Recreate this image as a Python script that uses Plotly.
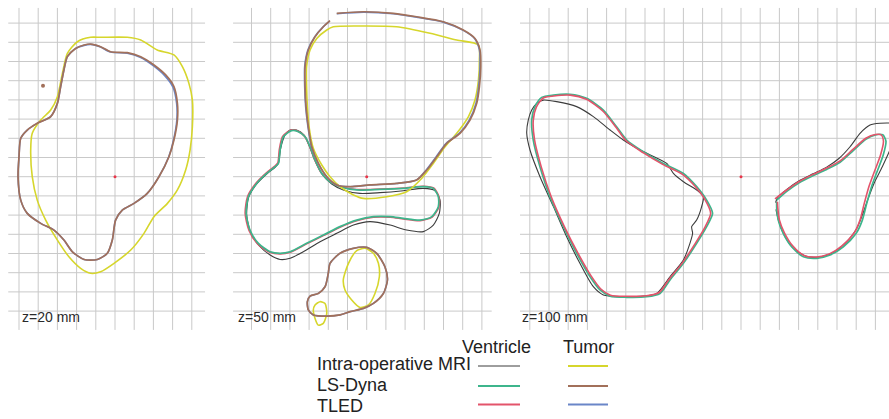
import plotly.graph_objects as go

W, H = 889, 419
PX_PER_MM = 1.92          # drawing scale: one 10 mm grid cell = 19.2 px
ORIGIN_Y_PX = 176.7       # vertical position of each slice centre
BOX_Y_PX = (0, 335)

# --- slice labels -----------------------------------------------------------
SLICE_LABELS = ["z=20 mm", "z=50 mm", "z=100 mm"]

# --- series names / legend ----------------------------------------------------
ROW_NAMES = ["Intra-operative MRI", "LS-Dyna", "TLED"]
COL_NAMES = ["Ventricle", "Tumor"]

# --- contours, coordinates in mm relative to slice centre ---------------------
# z = 20 mm : tumour only
P1_TUMOR_MRI = [(-12.7, 72.6), (-7.5, 72.6), (6.4, 72.6), (13.4, 71.2), (22.0, 66.0), (30.7, 63.4),
                (35.1, 57.3), (38.5, 48.6), (40.3, 39.9), (40.3, 26.0), (39.1, 13.9), (36.8, 3.5),
                (32.5, -6.9), (27.3, -13.9), (20.3, -20.8), (15.1, -29.5), (8.2, -38.2), (-0.5, -45.1),
                (-7.5, -49.5), (-12.7, -50.3), (-17.9, -47.7), (-24.0, -41.7), (-30.0, -33.0),
                (-36.1, -22.6), (-40.5, -12.2), (-43.1, 0.0), (-43.9, 13.9), (-43.1, 22.6),
                (-38.7, 29.5), (-33.5, 34.7), (-30.0, 41.7), (-27.4, 53.8), (-24.8, 64.2), (-19.6, 70.3)]
P1_TUMOR_LSDYNA = [(-16.1, 68.6), (-12.7, 69.1), (-7.5, 67.7), (-2.3, 65.1), (6.4, 64.6), (13.4, 62.5),
                   (20.3, 58.2), (26.4, 53.0), (30.7, 46.9), (32.5, 38.2), (32.5, 29.5), (30.7, 19.1),
                   (28.1, 10.4), (22.9, 0.0), (16.8, -8.7), (9.9, -13.9), (3.8, -17.4), (0.3, -22.6),
                   (-1.4, -33.0), (-4.0, -39.9), (-9.2, -43.1), (-16.1, -43.1), (-22.2, -39.1),
                   (-26.6, -33.0), (-31.8, -27.8), (-38.7, -24.3), (-45.7, -19.1), (-49.1, -12.2),
                   (-50.5, 0.0), (-50.0, 10.4), (-49.1, 20.0), (-45.7, 24.3), (-40.5, 27.8),
                   (-33.5, 31.3), (-30.0, 38.2), (-28.3, 46.9), (-26.6, 55.6), (-24.8, 62.5), (-20.5, 66.8)]
P1_TUMOR_TLED = [(-16.1, 68.4), (-12.7, 68.9), (-7.5, 67.5), (-2.3, 64.9), (6.4, 64.3), (13.4, 62.1),
                 (20.1, 57.7), (26.0, 52.5), (30.2, 46.6), (32.1, 38.2), (32.2, 29.5), (30.5, 19.1),
                 (28.0, 10.4), (22.9, 0.0), (16.8, -8.7), (9.9, -13.9), (3.8, -17.4), (0.3, -22.6),
                 (-1.4, -33.0), (-4.0, -39.9), (-9.2, -43.1), (-16.1, -43.1), (-22.2, -39.1),
                 (-26.6, -33.0), (-31.8, -27.8), (-38.7, -24.3), (-45.7, -19.1), (-49.1, -12.2),
                 (-50.5, 0.0), (-50.0, 10.4), (-49.1, 20.0), (-45.7, 24.3), (-40.5, 27.8),
                 (-33.5, 31.3), (-30.0, 38.2), (-28.3, 46.9), (-26.6, 55.6), (-24.8, 62.5), (-20.5, 66.8)]
P1_TUMOR_SPECK = [(-37.5, 47.4)]

# z = 50 mm : tumour (large + small lobe) and ventricle
P2_TUMOR_MRI = [(-20.8, 76.4), (-17.4, 78.1), (-1.7, 78.5), (15.6, 78.1), (33.0, 74.7), (46.9, 71.2),
                (58.2, 68.6), (58.7, 60.8), (58.2, 50.3), (56.4, 39.9), (53.0, 31.3), (46.9, 22.6),
                (40.8, 15.6), (34.7, 6.9), (28.6, -0.9), (20.8, -7.8), (10.4, -10.4), (-1.7, -11.3),
                (-6.9, -9.5), (-13.9, -5.2), (-19.1, 0.0), (-23.4, 6.1), (-27.8, 14.8), (-29.9, 25.2),
                (-30.9, 36.5), (-31.3, 46.9), (-31.3, 57.3), (-29.5, 66.0), (-26.0, 72.0)]
P2_TUMOR_LSDYNA = [(-19.1, 81.3), (-22.6, 78.1), (-26.9, 72.9), (-30.4, 66.0), (-32.1, 57.3),
                   (-32.1, 46.9), (-31.6, 36.5), (-30.4, 26.0), (-28.6, 15.6), (-25.2, 6.9),
                   (-20.8, 0.0), (-15.6, -4.3), (-8.7, -5.2), (1.7, -4.3), (15.6, -3.5), (26.0, -1.7),
                   (31.3, 3.5), (36.5, 10.4), (41.7, 17.4), (48.6, 22.6), (53.8, 29.5), (57.3, 38.2),
                   (58.7, 46.9), (59.4, 57.3), (59.0, 66.0), (56.4, 72.0), (50.3, 76.4), (39.9, 80.7),
                   (26.0, 83.3), (13.9, 85.1), (-1.7, 85.9), (-15.6, 85.1)]
P2_TUMOR_TLED = [(-19.3, 81.0), (-22.8, 77.9), (-27.2, 72.7), (-30.7, 65.8), (-32.3, 57.3),
                 (-32.3, 46.9), (-31.8, 36.5), (-30.6, 26.0), (-28.8, 15.6), (-25.2, 6.9),
                 (-20.8, 0.0), (-15.6, -4.3), (-8.7, -5.2), (1.7, -4.3), (15.6, -3.5), (26.0, -1.7),
                 (31.0, 3.5), (36.2, 10.4), (41.4, 17.4), (48.2, 22.6), (53.4, 29.5), (56.9, 38.2),
                 (58.3, 46.9), (59.0, 57.3), (58.7, 66.0), (56.2, 72.0), (50.3, 76.2), (39.9, 80.5),
                 (26.0, 83.1), (13.9, 84.9), (-1.7, 85.7), (-15.6, 84.9)]
P2_LOBE_MRI = [(-0.9, -37.3), (-5.2, -38.5), (-9.5, -45.1), (-12.2, -53.8), (-11.3, -59.0),
               (-7.8, -64.2), (-3.5, -68.1), (0.9, -66.8), (4.3, -60.8), (6.6, -52.1), (6.1, -45.1),
               (3.5, -39.9)]
P2_SPOT_MRI = [(-26.9, -66.8), (-24.3, -65.1), (-21.7, -66.0), (-20.8, -71.2), (-22.6, -76.4),
               (-25.2, -77.3), (-26.9, -73.8), (-27.8, -69.4)]
P2_LOBE_LSDYNA = [(-19.1, -45.1), (-13.9, -39.9), (-6.9, -37.3), (0.0, -36.8), (5.2, -39.9),
                  (9.5, -46.9), (10.8, -53.8), (8.7, -60.8), (3.5, -66.0), (-1.7, -68.6),
                  (-8.7, -70.3), (-13.9, -72.0), (-20.8, -72.6), (-27.8, -72.0), (-30.4, -69.4),
                  (-30.9, -65.1), (-29.5, -62.2), (-25.2, -60.8), (-21.7, -57.3), (-20.0, -50.3)]
P2_LOBE_TLED = P2_LOBE_LSDYNA
P2_VENT_MRI = [(-46.0, 6.9), (-44.8, 14.8), (-42.5, 21.7), (-39.9, 24.3), (-36.5, 24.3), (-32.6, 21.7),
               (-29.9, 16.0), (-26.9, 8.3), (-22.9, 0.9), (-18.2, -3.8), (-12.2, -6.9), (-3.5, -8.7),
               (6.9, -8.3), (19.1, -7.3), (29.5, -6.1), (35.6, -7.3), (38.2, -12.2), (37.8, -19.1),
               (34.7, -25.2), (29.5, -28.6), (20.8, -27.8), (12.2, -25.2), (1.7, -23.4), (-6.9, -25.2),
               (-15.6, -29.5), (-24.3, -33.9), (-33.0, -39.1), (-39.9, -42.5), (-45.1, -43.1),
               (-50.3, -40.8), (-55.9, -36.1), (-60.4, -29.2), (-62.5, -20.0), (-61.5, -10.8),
               (-57.3, -3.8), (-52.1, 1.4), (-47.7, 4.9)]
P2_VENT_LSDYNA = [(-46.0, 6.9), (-45.1, 13.9), (-43.4, 20.8), (-39.1, 24.0), (-35.6, 23.4), (-32.1, 20.8),
                  (-29.5, 15.6), (-26.9, 8.7), (-23.4, 1.7), (-19.1, -2.6), (-13.9, -5.2), (-5.2, -6.9),
                  (6.9, -6.6), (19.1, -6.1), (29.5, -5.2), (34.7, -6.1), (37.3, -10.4), (37.3, -15.6),
                  (33.9, -20.8), (27.8, -22.6), (19.1, -21.7), (12.2, -20.8), (3.5, -20.8), (-5.2, -22.6),
                  (-13.9, -26.0), (-22.6, -30.4), (-31.3, -34.7), (-39.9, -39.1), (-45.1, -39.9),
                  (-50.3, -39.1), (-56.4, -34.7), (-60.8, -27.8), (-62.8, -19.1), (-61.6, -10.4),
                  (-57.3, -3.5), (-52.1, 1.7), (-47.7, 5.2)]
P2_VENT_TLED = [(-46.3, 7.2), (-45.5, 14.2), (-43.8, 21.0), (-39.4, 24.3), (-35.8, 23.7), (-32.3, 21.0),
                (-29.7, 15.8), (-27.1, 8.9), (-23.6, 1.9), (-19.3, -2.4), (-14.0, -5.0), (-5.2, -6.7),
                (6.9, -6.4), (19.1, -5.9), (29.5, -5.0), (34.9, -5.9), (37.6, -10.4), (37.6, -15.8),
                (34.1, -21.0), (27.8, -22.9), (19.1, -22.0), (12.2, -21.1), (3.5, -21.1), (-5.2, -22.9),
                (-13.9, -26.3), (-22.6, -30.7), (-31.3, -35.0), (-39.9, -39.4), (-45.1, -40.2),
                (-50.5, -39.4), (-56.8, -35.0), (-61.3, -28.0), (-63.3, -19.1), (-62.0, -10.2),
                (-57.6, -3.3), (-52.4, 1.9), (-48.0, 5.4)]

# z = 100 mm : ventricles (left and right horn)
P3_LEFT_MRI = [(-106.4, 38.2), (-103.0, 39.9), (-96.0, 39.1), (-85.6, 36.5), (-76.9, 31.3), (-68.2, 24.3),
               (-61.3, 19.1), (-52.6, 13.9), (-38.7, 6.9), (-35.2, 1.7), (-30.0, -2.6), (-23.1, -6.9),
               (-19.6, -10.4), (-20.5, -15.6), (-23.1, -22.6), (-25.7, -26.0), (-25.2, -29.5),
               (-26.6, -34.7), (-30.0, -43.4), (-37.0, -52.1), (-43.9, -60.8), (-50.9, -62.2),
               (-63.0, -62.5), (-71.7, -61.6), (-76.9, -57.3), (-83.9, -45.1), (-90.8, -31.3),
               (-97.7, -15.6), (-104.7, 0.0), (-109.9, 13.9), (-111.6, 22.6), (-110.8, 29.5), (-109.0, 34.7)]
P3_LEFT_LSDYNA = [(-103.8, 41.3), (-97.7, 42.5), (-89.1, 42.9), (-80.4, 40.8), (-71.7, 34.7), (-64.8, 26.0),
                  (-59.5, 19.1), (-50.9, 13.0), (-40.5, 6.9), (-30.0, 1.7), (-23.1, -5.2), (-17.9, -12.2),
                  (-14.8, -19.1), (-17.9, -26.0), (-23.1, -34.7), (-30.0, -45.1), (-37.0, -53.8),
                  (-42.2, -60.8), (-49.1, -62.5), (-59.5, -62.8), (-68.2, -62.2), (-73.4, -59.0),
                  (-78.6, -52.1), (-85.6, -39.9), (-92.5, -26.0), (-99.5, -10.4), (-104.7, 5.2),
                  (-108.2, 19.1), (-109.0, 29.5), (-107.3, 36.5)]
P3_LEFT_TLED = [(-103.0, 41.0), (-97.5, 42.0), (-89.0, 42.5), (-80.5, 40.3), (-72.0, 34.2), (-65.0, 25.6),
                (-59.8, 18.7), (-51.0, 12.5), (-40.8, 6.4), (-30.5, 1.2), (-23.6, -5.4), (-18.6, -12.2),
                (-15.8, -19.1), (-18.6, -26.0), (-23.8, -34.7), (-30.6, -45.0), (-37.5, -53.5),
                (-42.6, -60.3), (-49.3, -62.0), (-59.5, -62.3), (-68.0, -61.7), (-73.0, -58.5),
                (-78.0, -51.8), (-85.0, -39.7), (-92.0, -26.0), (-98.8, -10.6), (-104.0, 5.0),
                (-107.5, 19.0), (-108.2, 29.3), (-106.6, 36.2)]
P3_RIGHT_MRI = [(18.0, -13.5), (19.0, -11.0), (24.0, -6.5), (30.5, -2.0), (37.5, 1.5), (44.6, 5.0),
                (51.0, 9.5), (56.8, 15.6), (62.0, 22.6), (67.2, 26.9), (72.4, 27.8), (78.0, 27.8),
                (81.0, 26.0), (78.0, 15.0), (73.5, 5.0), (69.5, -3.0), (66.0, -12.0), (63.2, -20.0),
                (60.0, -27.5), (54.5, -34.5), (48.0, -39.5), (41.0, -41.8), (34.0, -41.5), (27.5, -37.5),
                (22.8, -31.0), (19.6, -23.0), (18.2, -17.0)]
P3_RIGHT_LSDYNA = [(18.6, -12.2), (24.0, -7.5), (30.5, -3.0), (37.5, 0.5), (44.6, 3.8), (51.6, 7.5),
                   (58.3, 13.5), (65.0, 19.5), (70.0, 21.8), (73.8, 21.8), (75.5, 18.5), (74.0, 11.0),
                   (71.0, 3.0), (68.0, -5.2), (65.5, -13.9), (63.2, -22.6), (60.0, -29.5), (53.3, -36.5),
                   (46.4, -40.8), (39.4, -42.5), (32.5, -41.7), (26.4, -36.5), (22.0, -29.5),
                   (19.4, -22.6), (18.6, -16.5), (18.6, -13.0)]
P3_RIGHT_TLED = [(17.7, -11.6), (24.0, -6.8), (30.5, -2.4), (37.5, 1.2), (44.6, 4.5), (51.6, 8.2),
                 (58.3, 14.2), (65.0, 20.0), (70.0, 22.0), (73.0, 21.8), (74.2, 18.5), (72.6, 11.0),
                 (69.6, 3.0), (66.6, -5.2), (64.2, -13.9), (62.0, -22.6), (59.0, -29.2), (52.6, -36.0),
                 (46.0, -40.2), (39.4, -41.8), (32.8, -41.0), (26.9, -36.0), (22.6, -29.2),
                 (20.0, -22.5), (19.2, -16.5), (19.0, -13.0)]

# --- styling ------------------------------------------------------------------
COLORS = {
    ("Ventricle", "MRI"): "#3c3c3c",
    ("Ventricle", "LS-Dyna"): "#3db58c",
    ("Ventricle", "TLED"): "#e3546b",
    ("Tumor", "MRI"): "#d6d62c",
    ("Tumor", "LS-Dyna"): "#a2705a",
    ("Tumor", "TLED"): "#6a86c8",
}
WIDTHS = {"MRI": 1.6, "LS-Dyna": 1.7, "TLED": 1.6}
WIDTHS_VENT_MRI = 1.1
GRID_COLOR = "#c9c9c9"
FONT = "Liberation Sans, Arial, sans-serif"

# panel boxes (pixels) and centre positions
PANELS = [
    dict(box=(0, 220), ox=115.0, vlines=range(-50, 41, 10), hx=(-55.6, 46.9)),
    dict(box=(225, 505), ox=366.7, vlines=range(-60, 61, 10), hx=(-69.6, 65.1)),
    dict(box=(510, 889), ox=741.0, vlines=range(-110, 81, 10), hx=(-115.1, 82.0)),
]
HLINES = range(-70, 81, 10)
VLINE_Y = (-79.8, 87.9)

fig = go.Figure()
layout_axes = {}
shapes = []

for i, p in enumerate(PANELS, start=1):
    left, right = p["box"]
    xr = [(left - p["ox"]) / PX_PER_MM, (right - p["ox"]) / PX_PER_MM]
    yr = [(ORIGIN_Y_PX - BOX_Y_PX[1]) / PX_PER_MM, (ORIGIN_Y_PX - BOX_Y_PX[0]) / PX_PER_MM]
    sfx = "" if i == 1 else str(i)
    layout_axes[f"xaxis{sfx}"] = dict(domain=[left / W, right / W], range=xr, visible=False,
                                       fixedrange=True, anchor=f"y{sfx}")
    layout_axes[f"yaxis{sfx}"] = dict(domain=[1 - BOX_Y_PX[1] / H, 1 - BOX_Y_PX[0] / H], range=yr,
                                       visible=False, fixedrange=True, anchor=f"x{sfx}")
    xref, yref = f"x{sfx}", f"y{sfx}"
    for xv in p["vlines"]:
        shapes.append(dict(type="line", xref=xref, yref=yref, x0=xv, x1=xv, y0=VLINE_Y[0], y1=VLINE_Y[1],
                           line=dict(color=GRID_COLOR, width=1), layer="below"))
    for yv in HLINES:
        shapes.append(dict(type="line", xref=xref, yref=yref, x0=p["hx"][0], x1=p["hx"][1], y0=yv, y1=yv,
                           line=dict(color=GRID_COLOR, width=1), layer="below"))


def contour(pts, panel, color, width, closed=True):
    xs = [q[0] for q in pts]
    ys = [q[1] for q in pts]
    if closed:
        xs.append(xs[0])
        ys.append(ys[0])
    sfx = "" if panel == 1 else str(panel)
    fig.add_trace(go.Scatter(x=xs, y=ys, mode="lines", xaxis=f"x{sfx}", yaxis=f"y{sfx}",
                             line=dict(color=color, width=width, shape="spline", smoothing=0.7),
                             hoverinfo="skip", showlegend=False))


def dot(pts, panel, color, size):
    sfx = "" if panel == 1 else str(panel)
    fig.add_trace(go.Scatter(x=[q[0] for q in pts], y=[q[1] for q in pts], mode="markers",
                             xaxis=f"x{sfx}", yaxis=f"y{sfx}", marker=dict(color=color, size=size),
                             hoverinfo="skip", showlegend=False))


T_MRI, T_LS, T_TL = COLORS[("Tumor", "MRI")], COLORS[("Tumor", "LS-Dyna")], COLORS[("Tumor", "TLED")]
V_MRI, V_LS, V_TL = COLORS[("Ventricle", "MRI")], COLORS[("Ventricle", "LS-Dyna")], COLORS[("Ventricle", "TLED")]

# z = 20 mm
contour(P1_TUMOR_MRI, 1, T_MRI, WIDTHS["MRI"])
contour(P1_TUMOR_TLED, 1, T_TL, WIDTHS["TLED"])
contour(P1_TUMOR_LSDYNA, 1, T_LS, WIDTHS["LS-Dyna"])
dot(P1_TUMOR_SPECK, 1, T_LS, 4)

# z = 50 mm
contour(P2_VENT_MRI, 2, V_MRI, WIDTHS_VENT_MRI)
contour(P2_VENT_TLED, 2, V_TL, WIDTHS["TLED"])
contour(P2_VENT_LSDYNA, 2, V_LS, WIDTHS["LS-Dyna"])
contour(P2_TUMOR_MRI, 2, T_MRI, WIDTHS["MRI"])
contour(P2_LOBE_MRI, 2, T_MRI, WIDTHS["MRI"])
contour(P2_SPOT_MRI, 2, T_MRI, WIDTHS["MRI"])
contour(P2_TUMOR_TLED, 2, T_TL, WIDTHS["TLED"], closed=False)
contour(P2_TUMOR_LSDYNA, 2, T_LS, WIDTHS["LS-Dyna"], closed=False)
contour(P2_LOBE_TLED, 2, T_TL, WIDTHS["TLED"])
contour(P2_LOBE_LSDYNA, 2, T_LS, WIDTHS["LS-Dyna"])

# z = 100 mm
contour(P3_LEFT_MRI, 3, V_MRI, WIDTHS_VENT_MRI)
contour(P3_LEFT_LSDYNA, 3, V_LS, WIDTHS["LS-Dyna"])
contour(P3_LEFT_TLED, 3, V_TL, WIDTHS["TLED"])
contour(P3_RIGHT_MRI, 3, V_MRI, WIDTHS_VENT_MRI, closed=False)
contour(P3_RIGHT_LSDYNA, 3, V_LS, WIDTHS["LS-Dyna"], closed=False)
contour(P3_RIGHT_TLED, 3, V_TL, WIDTHS["TLED"], closed=False)

# slice centres
for k in (1, 2, 3):
    dot([(0, 0)], k, "#e8364a", 3)

annotations = []
# slice labels (pixel positions of label left edge)
for label, xpx in zip(SLICE_LABELS, (20, 236, 520)):
    annotations.append(dict(text=label, xref="paper", yref="paper", x=xpx / W, y=1 - 317 / H,
                            xanchor="left", yanchor="middle", showarrow=False,
                            font=dict(family=FONT, size=14, color="#2a2a2a")))

# legend block
for name, xc in zip(COL_NAMES, (496, 588)):
    annotations.append(dict(text=name, xref="paper", yref="paper", x=xc / W, y=1 - 347 / H,
                            xanchor="center", yanchor="middle", showarrow=False,
                            font=dict(family=FONT, size=18, color="#222")))
row_y = (364, 385, 406)
line_y = (366, 386, 404.5)
row_keys = ("MRI", "LS-Dyna", "TLED")
for name, ty, ly, key in zip(ROW_NAMES, row_y, line_y, row_keys):
    annotations.append(dict(text=name, xref="paper", yref="paper", x=315 / W, y=1 - ty / H,
                            xanchor="left", yanchor="middle", showarrow=False,
                            font=dict(family=FONT, size=18, color="#222")))
    for col, (x0, x1) in zip(COL_NAMES, ((478, 520), (568, 608))):
        w = 1 if (col == "Ventricle" and key == "MRI") else 2
        shapes.append(dict(type="line", xref="paper", yref="paper", x0=x0 / W, x1=x1 / W,
                           y0=1 - ly / H, y1=1 - ly / H, line=dict(color=COLORS[(col, key)], width=w)))

fig.update_layout(width=W, height=H, margin=dict(l=0, r=0, t=0, b=0),
                  paper_bgcolor="white", plot_bgcolor="white",
                  shapes=shapes, annotations=annotations, showlegend=False, **layout_axes)

fig.write_html("out.html", config={"displayModeBar": False})
